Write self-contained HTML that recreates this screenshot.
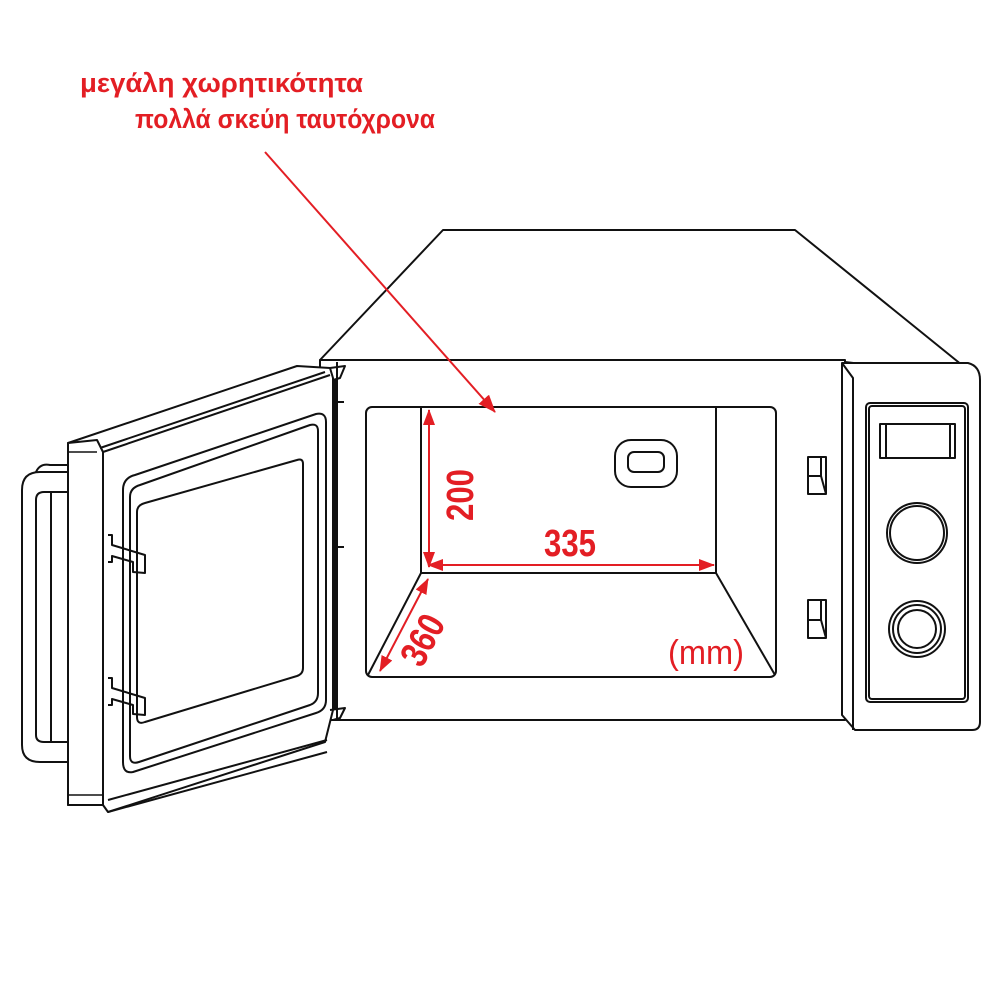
<!DOCTYPE html>
<html><head><meta charset="utf-8"><style>
html,body{margin:0;padding:0;background:#fff}
svg{display:block}
</style></head><body>
<svg width="1000" height="1000" viewBox="0 0 1000 1000" xmlns="http://www.w3.org/2000/svg">
<defs>
<marker id="ah" markerWidth="16" markerHeight="12" refX="15" refY="6" orient="auto-start-reverse" markerUnits="userSpaceOnUse">
<path d="M0,0 L16,6 L0,12 z" fill="#e31e24"/>
</marker>
<marker id="ah2" markerWidth="18" markerHeight="14" refX="17" refY="7" orient="auto" markerUnits="userSpaceOnUse">
<path d="M0,0 L18,7 L0,14 z" fill="#e31e24"/>
</marker>
</defs>
<g fill="none" stroke="#111" stroke-width="2" stroke-linejoin="round">
<polygon points="320,360 443,230 795,230 978,378 845,362" fill="#fff"/>
<rect x="320" y="360" width="525" height="360" fill="#fff"/>
<line x1="337" y1="362" x2="337" y2="718"/>
<path d="M842,363 L968,363 Q980,366 980,380 L980,722 Q980,730 972,730 L855,730 L842,715 Z" fill="#fff"/>
<path d="M842,363 L853,378 L853,730"/>
<rect x="866" y="403" width="102" height="299" rx="4"/>
<rect x="869" y="406" width="96" height="293" rx="3"/>
<rect x="880" y="424" width="75" height="34"/>
<line x1="886" y1="424" x2="886" y2="458"/>
<line x1="950" y1="424" x2="950" y2="458"/>
<circle cx="917" cy="533" r="30"/>
<circle cx="917" cy="533" r="27"/>
<circle cx="917" cy="629" r="28"/>
<circle cx="917" cy="629" r="24"/>
<circle cx="917" cy="629" r="19"/>
<rect x="808" y="457" width="18" height="37"/>
<path d="M808,476 L821,476 L826,494"/>
<line x1="821" y1="457" x2="821" y2="476"/>
<rect x="808" y="600" width="18" height="38"/>
<path d="M808,620 L821,620 L826,638"/>
<line x1="821" y1="600" x2="821" y2="620"/>
<line x1="337" y1="402" x2="344" y2="402"/>
<line x1="337" y1="547" x2="344" y2="547"/>
<rect x="366" y="407" width="410" height="270" rx="6" fill="#fff"/>
<rect x="421" y="407" width="295" height="166"/>
<line x1="421" y1="573" x2="368" y2="675"/>
<line x1="716" y1="573" x2="775" y2="675"/>
<rect x="615" y="440" width="62" height="47" rx="16"/>
<rect x="628" y="452" width="36" height="20" rx="6"/>
<path d="M68,472 L40,472 Q22,472 22,490 L22,745 Q22,762 40,762 L68,762"/>
<path d="M68,492 L44,492 Q36,492 36,500 L36,735 Q36,742 44,742 L68,742"/>
<line x1="51" y1="493" x2="51" y2="741"/>
<path d="M36,472 Q40,463 50,465 L68,465"/>
<polygon points="68,443 297,366 330,368 333,378 333,710 325,742 108,812 103,805 68,805" fill="#fff"/>
<polygon points="68,443 97,440 103,452 103,805 68,805" fill="#fff"/>
<line x1="68" y1="452" x2="97" y2="452" stroke-width="1.5"/>
<line x1="68" y1="795" x2="103" y2="795" stroke-width="1.5"/>
<line x1="103" y1="452" x2="330" y2="375"/>
<line x1="100" y1="448" x2="325" y2="372"/>
<line x1="335" y1="380" x2="335" y2="710"/>
<path d="M330,368 L345,366 L340,378 L333,380"/>
<path d="M330,710 L345,708 L340,718 L333,720"/>
<line x1="108" y1="800" x2="327" y2="740"/>
<line x1="108" y1="812" x2="327" y2="752"/>
<path d="M123,490 Q123,478 135,475 L316,414 Q326,412 326,422 L326,700 Q326,710 316,713 L133,772 Q123,774 123,762 Z"/>
<path d="M130,497 Q130,488 140,485 L310,425 Q318,423 318,431 L318,693 Q318,702 310,705 L139,762 Q130,765 130,756 Z"/>
<path d="M137,512 Q137,505 145,503 L297,460 Q303,458 303,464 L303,668 Q303,674 297,676 L145,722 Q137,725 137,717 Z"/>
<path d="M108,535 L112,535 L112,545 L145,555 L145,573 L133,572 L133,562 L112,556 L112,562 L108,562"/>
<path d="M108,678 L112,678 L112,688 L145,698 L145,715 L133,714 L133,705 L112,699 L112,705 L108,705"/>
</g>
<g font-family="Liberation Sans, DejaVu Sans, sans-serif" font-weight="bold" fill="#e31e24">
<text x="80" y="92" font-size="27" textLength="283" lengthAdjust="spacingAndGlyphs">μεγάλη χωρητικότητα</text>
<text x="135" y="128" font-size="27" textLength="300" lengthAdjust="spacingAndGlyphs">πολλά σκεύη ταυτόχρονα</text>
<text x="570" y="556" font-size="38" text-anchor="middle" textLength="52" lengthAdjust="spacingAndGlyphs">335</text>
<text transform="translate(473,495) rotate(-90)" font-size="38" text-anchor="middle" textLength="52" lengthAdjust="spacingAndGlyphs">200</text>
<text transform="translate(434,646) rotate(-62)" font-size="38" text-anchor="middle" textLength="52" lengthAdjust="spacingAndGlyphs">360</text>
<text x="706" y="664" font-size="34" font-weight="normal" text-anchor="middle" textLength="76" lengthAdjust="spacingAndGlyphs">(mm)</text>
</g>
<g stroke="#e31e24" stroke-width="2" fill="none">
<line x1="265" y1="152" x2="495" y2="412" marker-end="url(#ah2)"/>
<line x1="429" y1="410" x2="429" y2="567" marker-start="url(#ah)" marker-end="url(#ah)"/>
<line x1="428" y1="565" x2="714" y2="565" marker-start="url(#ah)" marker-end="url(#ah)"/>
<line x1="428" y1="579" x2="380" y2="671" marker-start="url(#ah)" marker-end="url(#ah)"/>
</g>
</svg>
</body></html>
